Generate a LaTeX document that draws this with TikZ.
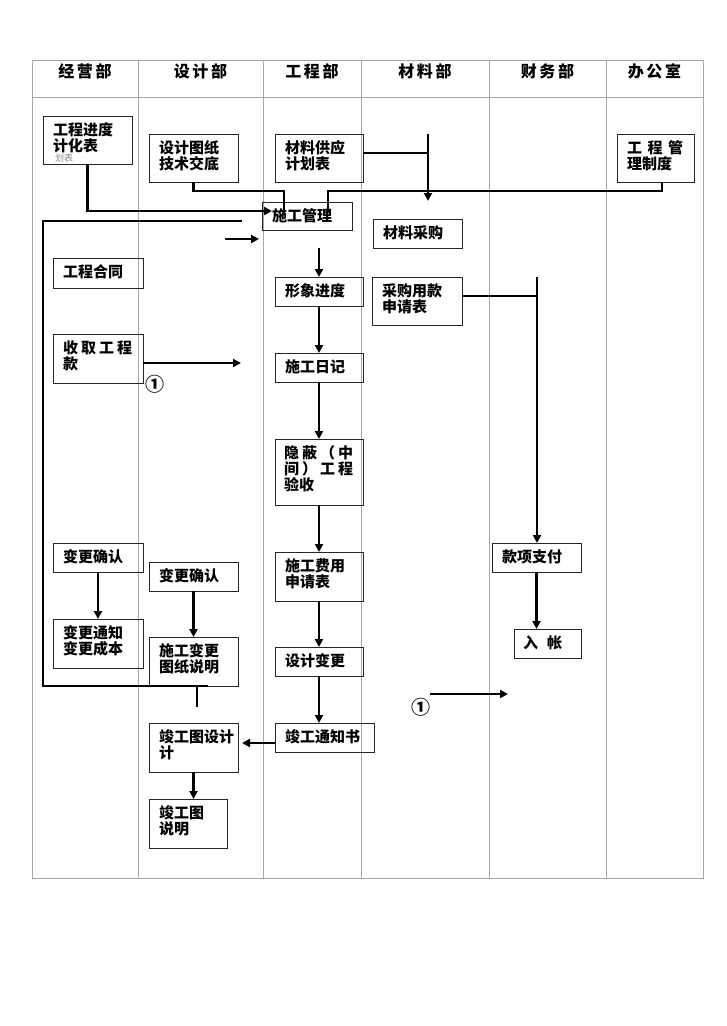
\documentclass[tikz,border=0pt]{standalone}
\usepackage{fontspec}
\setmainfont{Noto Sans CJK SC}
\usetikzlibrary{arrows.meta,calc}
\begin{document}
\begin{tikzpicture}[x=1pt,y=-1pt,
  gridline/.style={draw=black!35,line width=0.9pt},
  box/.style={draw=black!85,line width=1pt,anchor=north west,inner sep=0pt,outer sep=0pt},
  lbl/.style={anchor=north west,inner sep=0pt,align=left,font=\fontsize{15}{16}\selectfont\bfseries},
  head/.style={anchor=center,inner sep=0pt,font=\fontsize{16}{16}\selectfont\bfseries},
  circ/.style={anchor=center,inner sep=0pt,font=\fontsize{19}{19}\selectfont\bfseries},
  conn/.style={line width=2.8pt,black},
  arr/.style={conn,-{Triangle[length=8pt,width=8pt]}}]
\useasboundingbox[fill=white] (0,0) rectangle (726,1026);
% table
\draw[gridline] (32,60) rectangle (703,878);
\draw[gridline] (32,97) -- (703,97);
\foreach \xx in {138,263,361,489,606} \draw[gridline] (\xx,60) -- (\xx,878);
% headers
\node[head] (h1) at (85,71) {经\,营\,部};
\node[head] (h2) at (200.5,71) {设\,计\,部};
\node[head] (h3) at (312,71) {工\,程\,部};
\node[head] (h4) at (425,71) {材\,料\,部};
\node[head] (h5) at (547.5,71) {财\,务\,部};
\node[head] (h6) at (654.5,71) {办\,公\,室};
% boxes
\node[box,minimum width=89pt,minimum height=48pt] (jyjd) at (43,116) {};
\node[lbl] (tjyjd) at ($(jyjd.north west)+(10,6)$) {工程进度\\计化表};
\node[anchor=north west,inner sep=0pt,font=\fontsize{9}{9}\selectfont,text=black!45] (thb) at (55,153.5) {划表};
\node[box,minimum width=89pt,minimum height=48pt] (sjtz) at (149,134) {};
\node[lbl] at ($(sjtz.north west)+(10,6)$) {设计图纸\\技术交底};
\node[box,minimum width=88pt,minimum height=48pt] (clgy) at (275,134) {};
\node[lbl] at ($(clgy.north west)+(10,6)$) {材料供应\\计划表};
\node[box,minimum width=90pt,minimum height=28pt] (gl) at (262,202) {};
\node[lbl] at ($(gl.north west)+(10,6)$) {施工管理};
\node[box,minimum width=77pt,minimum height=48pt] (gczd) at (617,134) {};
\node[lbl] at ($(gczd.north west)+(10,6)$) {工\hspace{5.5pt}程\hspace{5.5pt}管\\理制度};
\node[box,minimum width=89pt,minimum height=29pt] (clcg) at (373,219) {};
\node[lbl] at ($(clcg.north west)+(10,6)$) {材料采购};
\node[box,minimum width=90pt,minimum height=30pt] (gcht) at (53,258) {};
\node[lbl] at ($(gcht.north west)+(10,6)$) {工程合同};
\node[box,minimum width=88pt,minimum height=29pt] (xxjd) at (275,277) {};
\node[lbl] at ($(xxjd.north west)+(10,6)$) {形象进度};
\node[box,minimum width=90pt,minimum height=49pt] (sqgk) at (53,334) {};
\node[lbl] at ($(sqgk.north west)+(10,6)$) {收\hspace{3pt}取\hspace{3pt}工\hspace{3pt}程\\款};
\node[box,minimum width=88pt,minimum height=29pt] (sgrj) at (275,353) {};
\node[lbl] at ($(sgrj.north west)+(10,6)$) {施工日记};
\node[box,minimum width=88pt,minimum height=66pt] (ybys) at (275,439) {};
\node[lbl] at ($(ybys.north west)+(9,6)$) {隐\hspace{3pt}蔽\hspace{3pt}（\hspace{3pt}中\\间\hspace{3pt}）\hspace{3pt}工\hspace{3pt}程\\验收};
\node[box,minimum width=90pt,minimum height=48pt] (cgyk) at (372,277) {};
\node[lbl] at ($(cgyk.north west)+(10,6)$) {采购用款\\申请表};
\node[box,minimum width=90pt,minimum height=29pt] (bgqr1) at (53,543) {};
\node[lbl] at ($(bgqr1.north west)+(10,6)$) {变更确认};
\node[box,minimum width=89pt,minimum height=29pt] (bgqr2) at (149,562) {};
\node[lbl] at ($(bgqr2.north west)+(10,6)$) {变更确认};
\node[box,minimum width=88pt,minimum height=49pt] (sgfy) at (275,552) {};
\node[lbl] at ($(sgfy.north west)+(10,6)$) {施工费用\\申请表};
\node[box,minimum width=90pt,minimum height=49pt] (bgtz) at (53,619) {};
\node[lbl] at ($(bgtz.north west)+(10,6)$) {变更通知\\变更成本};
\node[box,minimum width=89pt,minimum height=49pt] (sgbg) at (149,637) {};
\node[lbl] at ($(sgbg.north west)+(10,6)$) {施工变更\\图纸说明};
\node[box,minimum width=88pt,minimum height=29pt] (sjbg) at (275,647) {};
\node[lbl] at ($(sjbg.north west)+(10,6)$) {设计变更};
\node[box,minimum width=89pt,minimum height=49pt] (jgtsj) at (149,723) {};
\node[lbl] at ($(jgtsj.north west)+(10,6)$) {竣工图设计\\计};
\node[box,minimum width=99pt,minimum height=29pt] (jgtz) at (275,723) {};
\node[lbl] at ($(jgtz.north west)+(10,6)$) {竣工通知书};
\node[box,minimum width=78pt,minimum height=49pt] (jgsm) at (149,799) {};
\node[lbl] at ($(jgsm.north west)+(10,6)$) {竣工图\\说明};
\node[box,minimum width=89pt,minimum height=29pt] (kxzf) at (492,543) {};
\node[lbl] at ($(kxzf.north west)+(10,6)$) {款项支付};
\node[box,minimum width=67pt,minimum height=29pt] (rz) at (514,629) {};
\node[lbl] at ($(rz.north west)+(9,6)$) {入\hspace{9pt}帐};
% circled marks
\node[circ] (m1) at (155,384) {①};
\node[circ] (m2) at (421,707) {①};
% named coordinates
\coordinate (glin1) at (272,211);
\coordinate (glin2) at (284,213);
\coordinate (glin3) at (328,212);
\coordinate (zdout) at (662,182);
\coordinate (cltop) at (428,134);
\coordinate (cltip) at (428,201);
\coordinate (clj) at (428,153);
\coordinate (lp1) at (242,221);
\coordinate (lp2) at (43,686);
\coordinate (lp3) at (208,686);
\coordinate (lp4) at (197,707);
\coordinate (sa1) at (225,239);
\coordinate (sa2) at (259,239);
\coordinate (glout) at (319,248);
\coordinate (sqtip) at (241,363);
\coordinate (cgj) at (537,296);
\coordinate (cgtop) at (537,277);
\coordinate (m2s) at (430,694);
\coordinate (m2e) at (508,694);
\coordinate (jgl) at (275,743);
% connectors
\draw[arr] (jyjd.south) |- (glin1);
\draw[conn] (sjtz.south) |- ($(glin2)+(0,-22)$) -- (glin2);
\draw[conn] (zdout) |- ($(glin3)+(0,-21)$) -- (glin3);
\draw[arr] (cltop) -- (cltip);
\draw[conn,line width=2pt] (clj -| clgy.east) -- (clj);
\draw[conn] (lp1) -| (lp2) -- (lp3);
\draw[conn] (lp4 |- lp3) -- (lp4);
\draw[arr] (sa1) -- (sa2);
\draw[arr] (glout) -- (xxjd.north);
\draw[arr] (xxjd.south) -- (sgrj.north);
\draw[arr] (sgrj.south) -- (ybys.north);
\draw[arr] (ybys.south) -- (sgfy.north);
\draw[arr] (sgfy.south) -- (sjbg.north);
\draw[arr] (sjbg.south) -- (sjbg.south |- jgtz.north);
\draw[arr,shorten >=4pt] (jgl) -- (jgl -| jgtsj.east);
\draw[arr] (jgtsj.south) -- (jgtsj.south |- jgsm.north);
\draw[arr] (bgqr1.south) -- (bgtz.north);
\draw[arr] (bgqr2.south) -- (sgbg.north);
\draw[arr] (sqtip -| sqgk.east) -- (sqtip);
\draw[conn,line width=2pt] (cgj -| cgyk.east) -- (cgj);
\draw[arr] (cgtop) -- (cgtop |- kxzf.north);
\draw[arr] (kxzf.south) -- (kxzf.south |- rz.north);
\draw[arr] (m2s) -- (m2e);
\end{tikzpicture}
\end{document}
